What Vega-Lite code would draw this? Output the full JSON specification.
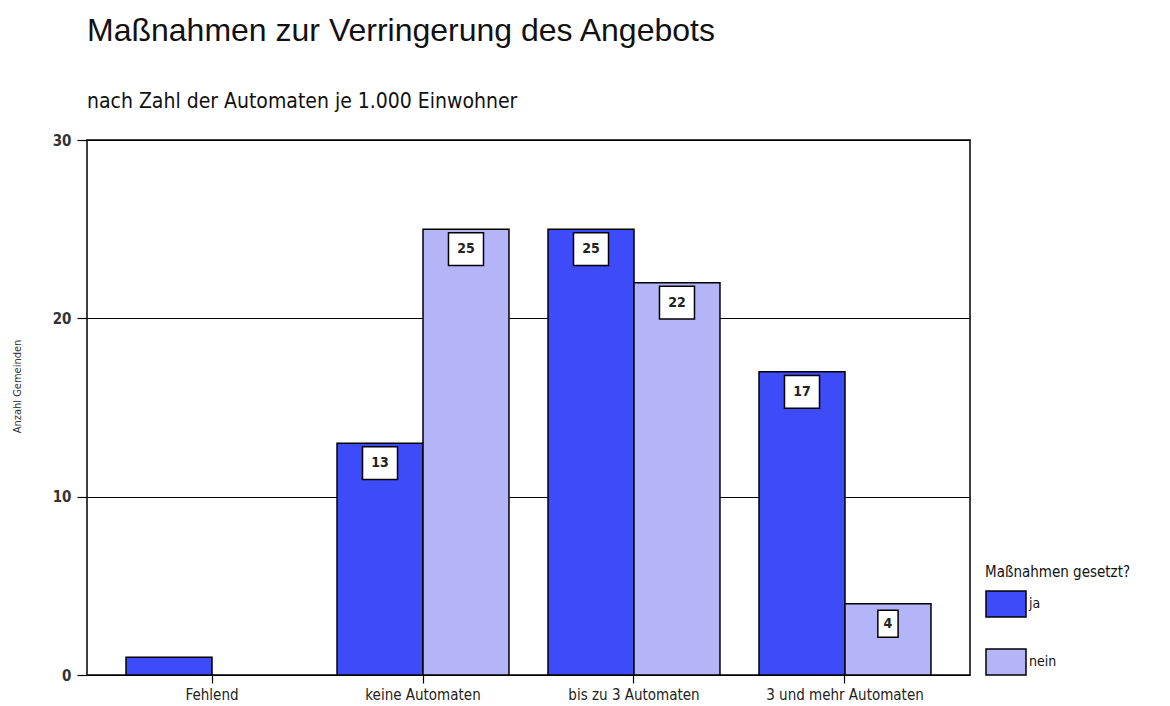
{
  "$schema": "https://vega.github.io/schema/vega-lite/v6.json",
  "autosize": {"type": "none"},
  "padding": {"left": 87, "top": 140, "right": 200, "bottom": 31},
  "width": 883,
  "height": 535,
  "background": "white",
  "title": {
    "text": "Maßnahmen zur Verringerung des Angebots",
    "subtitle": "nach Zahl der Automaten je 1.000 Einwohner",
    "anchor": "start",
    "frame": "group",
    "offset": 20,
    "font": "Liberation Sans, Arial, sans-serif",
    "fontSize": 32,
    "fontWeight": "normal",
    "color": "#111",
    "subtitleFont": "Liberation Sans Narrow, DejaVu Sans Condensed, sans-serif",
    "subtitleFontSize": 21,
    "subtitleColor": "#111",
    "subtitlePadding": 43
  },
  "data": {
    "values": [
      {"Kategorie": "Fehlend", "Antwort": "ja", "Anzahl": 1},
      {"Kategorie": "keine Automaten", "Antwort": "ja", "Anzahl": 13},
      {"Kategorie": "keine Automaten", "Antwort": "nein", "Anzahl": 25},
      {"Kategorie": "bis zu 3 Automaten", "Antwort": "ja", "Anzahl": 25},
      {"Kategorie": "bis zu 3 Automaten", "Antwort": "nein", "Anzahl": 22},
      {"Kategorie": "3 und mehr Automaten", "Antwort": "ja", "Anzahl": 17},
      {"Kategorie": "3 und mehr Automaten", "Antwort": "nein", "Anzahl": 4}
    ]
  },
  "encoding": {
    "x": {
      "field": "Kategorie",
      "type": "nominal",
      "sort": ["Fehlend", "keine Automaten", "bis zu 3 Automaten", "3 und mehr Automaten"],
      "scale": {"paddingInner": 0.185, "paddingOuter": 0.185},
      "axis": {
        "title": null,
        "labelAngle": 0,
        "labelFont": "Liberation Sans Narrow, DejaVu Sans Condensed, sans-serif",
        "labelFontSize": 15,
        "labelColor": "#222",
        "labelPadding": 4,
        "tickColor": "black",
        "tickSize": 8,
        "tickWidth": 1.2,
        "domain": false,
        "grid": false
      }
    },
    "xOffset": {"field": "Antwort", "type": "nominal", "scale": {"domain": ["ja", "nein"]}},
    "y": {
      "field": "Anzahl",
      "type": "quantitative",
      "scale": {"domain": [0, 30], "nice": false},
      "axis": {
        "title": "Anzahl Gemeinden",
        "titleFont": "Liberation Sans Narrow, DejaVu Sans Condensed, sans-serif",
        "titleFontSize": 11,
        "titleFontWeight": "normal",
        "titleColor": "#333",
        "titleX": -70,
        "titleY": 246,
        "titleAngle": -90,
        "titleAlign": "center",
        "titleBaseline": "middle",
        "values": [0, 10, 20, 30],
        "labelFont": "Liberation Sans Narrow, DejaVu Sans Condensed, sans-serif",
        "labelFontSize": 15,
        "labelFontWeight": "bold",
        "labelColor": "#333",
        "labelPadding": 6,
        "tickColor": "black",
        "tickSize": 10,
        "tickWidth": 1.2,
        "domain": false,
        "grid": true,
        "gridColor": "black",
        "gridWidth": 1.2,
        "gridOpacity": 1
      }
    }
  },
  "layer": [
    {
      "mark": {"type": "bar", "stroke": "black", "strokeWidth": 1.5},
      "encoding": {
        "color": {
          "field": "Antwort",
          "type": "nominal",
          "scale": {"domain": ["ja", "nein"], "range": ["#3D4CF8", "#B4B4F8"]},
          "legend": {
            "title": "Maßnahmen gesetzt?",
            "orient": "none",
            "legendX": 898,
            "legendY": 425,
            "titleFont": "Liberation Sans Narrow, DejaVu Sans Condensed, sans-serif",
            "titleFontSize": 15,
            "titleFontWeight": "normal",
            "titleColor": "#111",
            "titlePadding": 3,
            "labelFont": "Liberation Sans Narrow, DejaVu Sans Condensed, sans-serif",
            "labelFontSize": 14,
            "labelColor": "#111",
            "labelOffset": 2,
            "labelBaseline": "middle",
            "rowPadding": 21,
            "symbolType": "M-1,-0.65L1,-0.65L1,0.65L-1,0.65Z",
            "symbolSize": 1600,
            "symbolStrokeColor": "black",
            "symbolStrokeWidth": 1.5,
            "symbolOpacity": 1
          }
        }
      }
    },
    {
      "transform": [{"filter": "datum.Kategorie != 'Fehlend'"}],
      "mark": {"type": "point", "filled": true, "fill": "white", "stroke": "black", "strokeWidth": 1.5, "opacity": 1, "yOffset": 20},
      "encoding": {
        "shape": {
          "condition": {"test": "datum.Anzahl < 10", "value": "M-0.75,-1L0.75,-1L0.75,1L-0.75,1Z"},
          "value": "M-1,-0.94L1,-0.94L1,0.94L-1,0.94Z"
        },
        "size": {"condition": {"test": "datum.Anzahl < 10", "value": 729}, "value": 1225}
      }
    },
    {
      "transform": [{"filter": "datum.Kategorie != 'Fehlend'"}],
      "mark": {
        "type": "text",
        "yOffset": 20,
        "baseline": "middle",
        "align": "center",
        "font": "Liberation Sans Narrow, DejaVu Sans Condensed, sans-serif",
        "fontSize": 14,
        "fontWeight": "bold",
        "color": "#222"
      },
      "encoding": {"text": {"field": "Anzahl", "type": "quantitative"}}
    }
  ],
  "config": {
    "view": {"stroke": "black", "strokeWidth": 1.5}
  }
}
